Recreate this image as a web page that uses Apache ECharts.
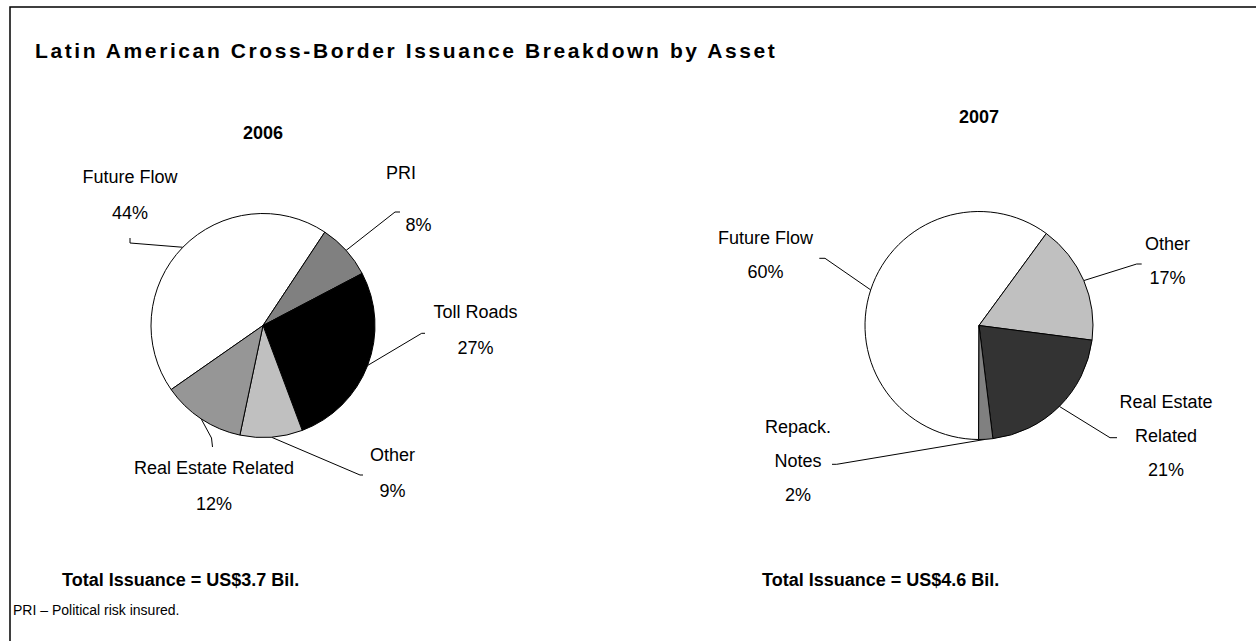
<!DOCTYPE html>
<html>
<head>
<meta charset="utf-8">
<script src="https://cdn.jsdelivr.net/npm/echarts@6/dist/echarts.min.js"></script>
<style>
  html, body { margin: 0; padding: 0; background: #fff; }
  #chart { width: 1256px; height: 641px; }
  /* wide tracking used by the chart heading */
  #chart text[style*="bold"] { letter-spacing: 2.6px; }
</style>
</head>
<body>
<div id="chart"></div>
<script>
// Issuance shares (%) by asset class
const years = ['2006', '2007'];
const assets2006 = ['Future Flow', 'PRI', 'Toll Roads', 'Other', 'Real Estate Related'];
const share2006 = [44, 8, 27, 9, 12];
const assets2007 = ['Future Flow', 'Other', 'Real Estate\nRelated', 'Repack.\nNotes'];
const share2007 = [60, 17, 21, 2];
const totalIssuance = ['3.7', '4.6']; // US$ billions

// grey-scale fills
const shades2006 = ['#ffffff', '#808080', '#000000', '#c0c0c0', '#969696'];
const shades2007 = ['#ffffff', '#c0c0c0', '#333333', '#808080'];

// where each slice label sits, and the bend/end of its leader line
const labelSpots2006 = [
  { x: 130, y: 195, line: [[130, 243], [130, 238]] },
  { x: 401, y: 199, lineHeight: 52, indent: true, line: [[395, 212], [400, 212]] },
  { x: 475.5, y: 330, line: [[421.7, 333.3], [425, 333.3]] },
  { x: 392.5, y: 473, line: [[360, 475], [363, 475]] },
  { x: 214, y: 486, line: [[211.5, 438], [212.5, 447]] }
];
const labelSpots2007 = [
  { x: 765.5, y: 254.5, line: [[825, 258.3], [819.3, 258.3]] },
  { x: 1167.5, y: 261, line: [[1136.7, 264], [1141.7, 264]] },
  { x: 1166, y: 436, line: [[1110, 437.7], [1117, 437.7]] },
  { x: 798, y: 461, line: [[836.7, 464.3], [832, 464.3]] }
];

const FONT = 'Liberation Sans, Arial, sans-serif';

function pieSeries(name, center, radius, startAngle, names, values, colors, spots, lineHeight) {
  return {
    type: 'pie',
    name: name,
    center: center,
    radius: radius,
    startAngle: startAngle,
    clockwise: true,
    avoidLabelOverlap: false,
    silent: true,
    animation: false,
    data: names.map((n, i) => {
      const item = { name: n, value: values[i], itemStyle: { color: colors[i] } };
      if (spots[i].lineHeight) item.label = { lineHeight: spots[i].lineHeight };
      return item;
    }),
    itemStyle: { borderColor: '#000', borderWidth: 1 },
    label: {
      show: true,
      position: 'outside',
      formatter: p => p.name + '\n' + (spots[p.dataIndex].indent ? '{gap| }' : '') + p.value + '%',
      rich: { gap: { width: 35 } },
      color: '#000',
      fontSize: 18,
      fontFamily: FONT,
      lineHeight: lineHeight,
      align: 'center'
    },
    labelLine: { show: true, length: 10, length2: 10, lineStyle: { color: '#000', width: 1 } },
    labelLayout: p => {
      const s = spots[p.dataIndex];
      const start = (p.labelLinePoints && p.labelLinePoints[0]) || s.line[0];
      return {
        x: s.x,
        y: s.y,
        align: 'center',
        verticalAlign: 'middle',
        labelLinePoints: [start, s.line[0], s.line[1]]
      };
    }
  };
}

function caption(text, x, y, size, weight, align) {
  return {
    type: 'text', silent: true,
    style: { text: text, x: x, y: y, fontSize: size, fontWeight: weight, fontFamily: FONT,
             fill: '#000', align: align, verticalAlign: 'middle' }
  };
}

const chart = echarts.init(document.getElementById('chart'), null, { renderer: 'svg' });

chart.setOption({
  backgroundColor: '#ffffff',
  animation: false,
  graphic: [
    { type: 'rect', silent: true, shape: { x: 10, y: 7, width: 1400, height: 800 },
      style: { fill: 'none', stroke: '#000', lineWidth: 1.5 } },
    caption('Latin American Cross-Border Issuance Breakdown by Asset', 35, 50, 21, 'bold', 'left'),
    caption(years[0], 263, 133, 18, 700, 'center'),
    caption(years[1], 979, 117, 18, 700, 'center'),
    caption('Total Issuance = US$' + totalIssuance[0] + ' Bil.', 62, 580, 18, 700, 'left'),
    caption('Total Issuance = US$' + totalIssuance[1] + ' Bil.', 762, 580, 18, 700, 'left'),
    caption('PRI \u2013 Political risk insured.', 13, 610, 14, 'normal', 'left')
  ],
  series: [
    pieSeries(years[0], [263, 325.5], 112, 214.9, assets2006, share2006, shades2006, labelSpots2006, 36),
    pieSeries(years[1], [979, 325.5], 114, 269.8, assets2007, share2007, shades2007, labelSpots2007, 34)
  ]
});
</script>
</body>
</html>
